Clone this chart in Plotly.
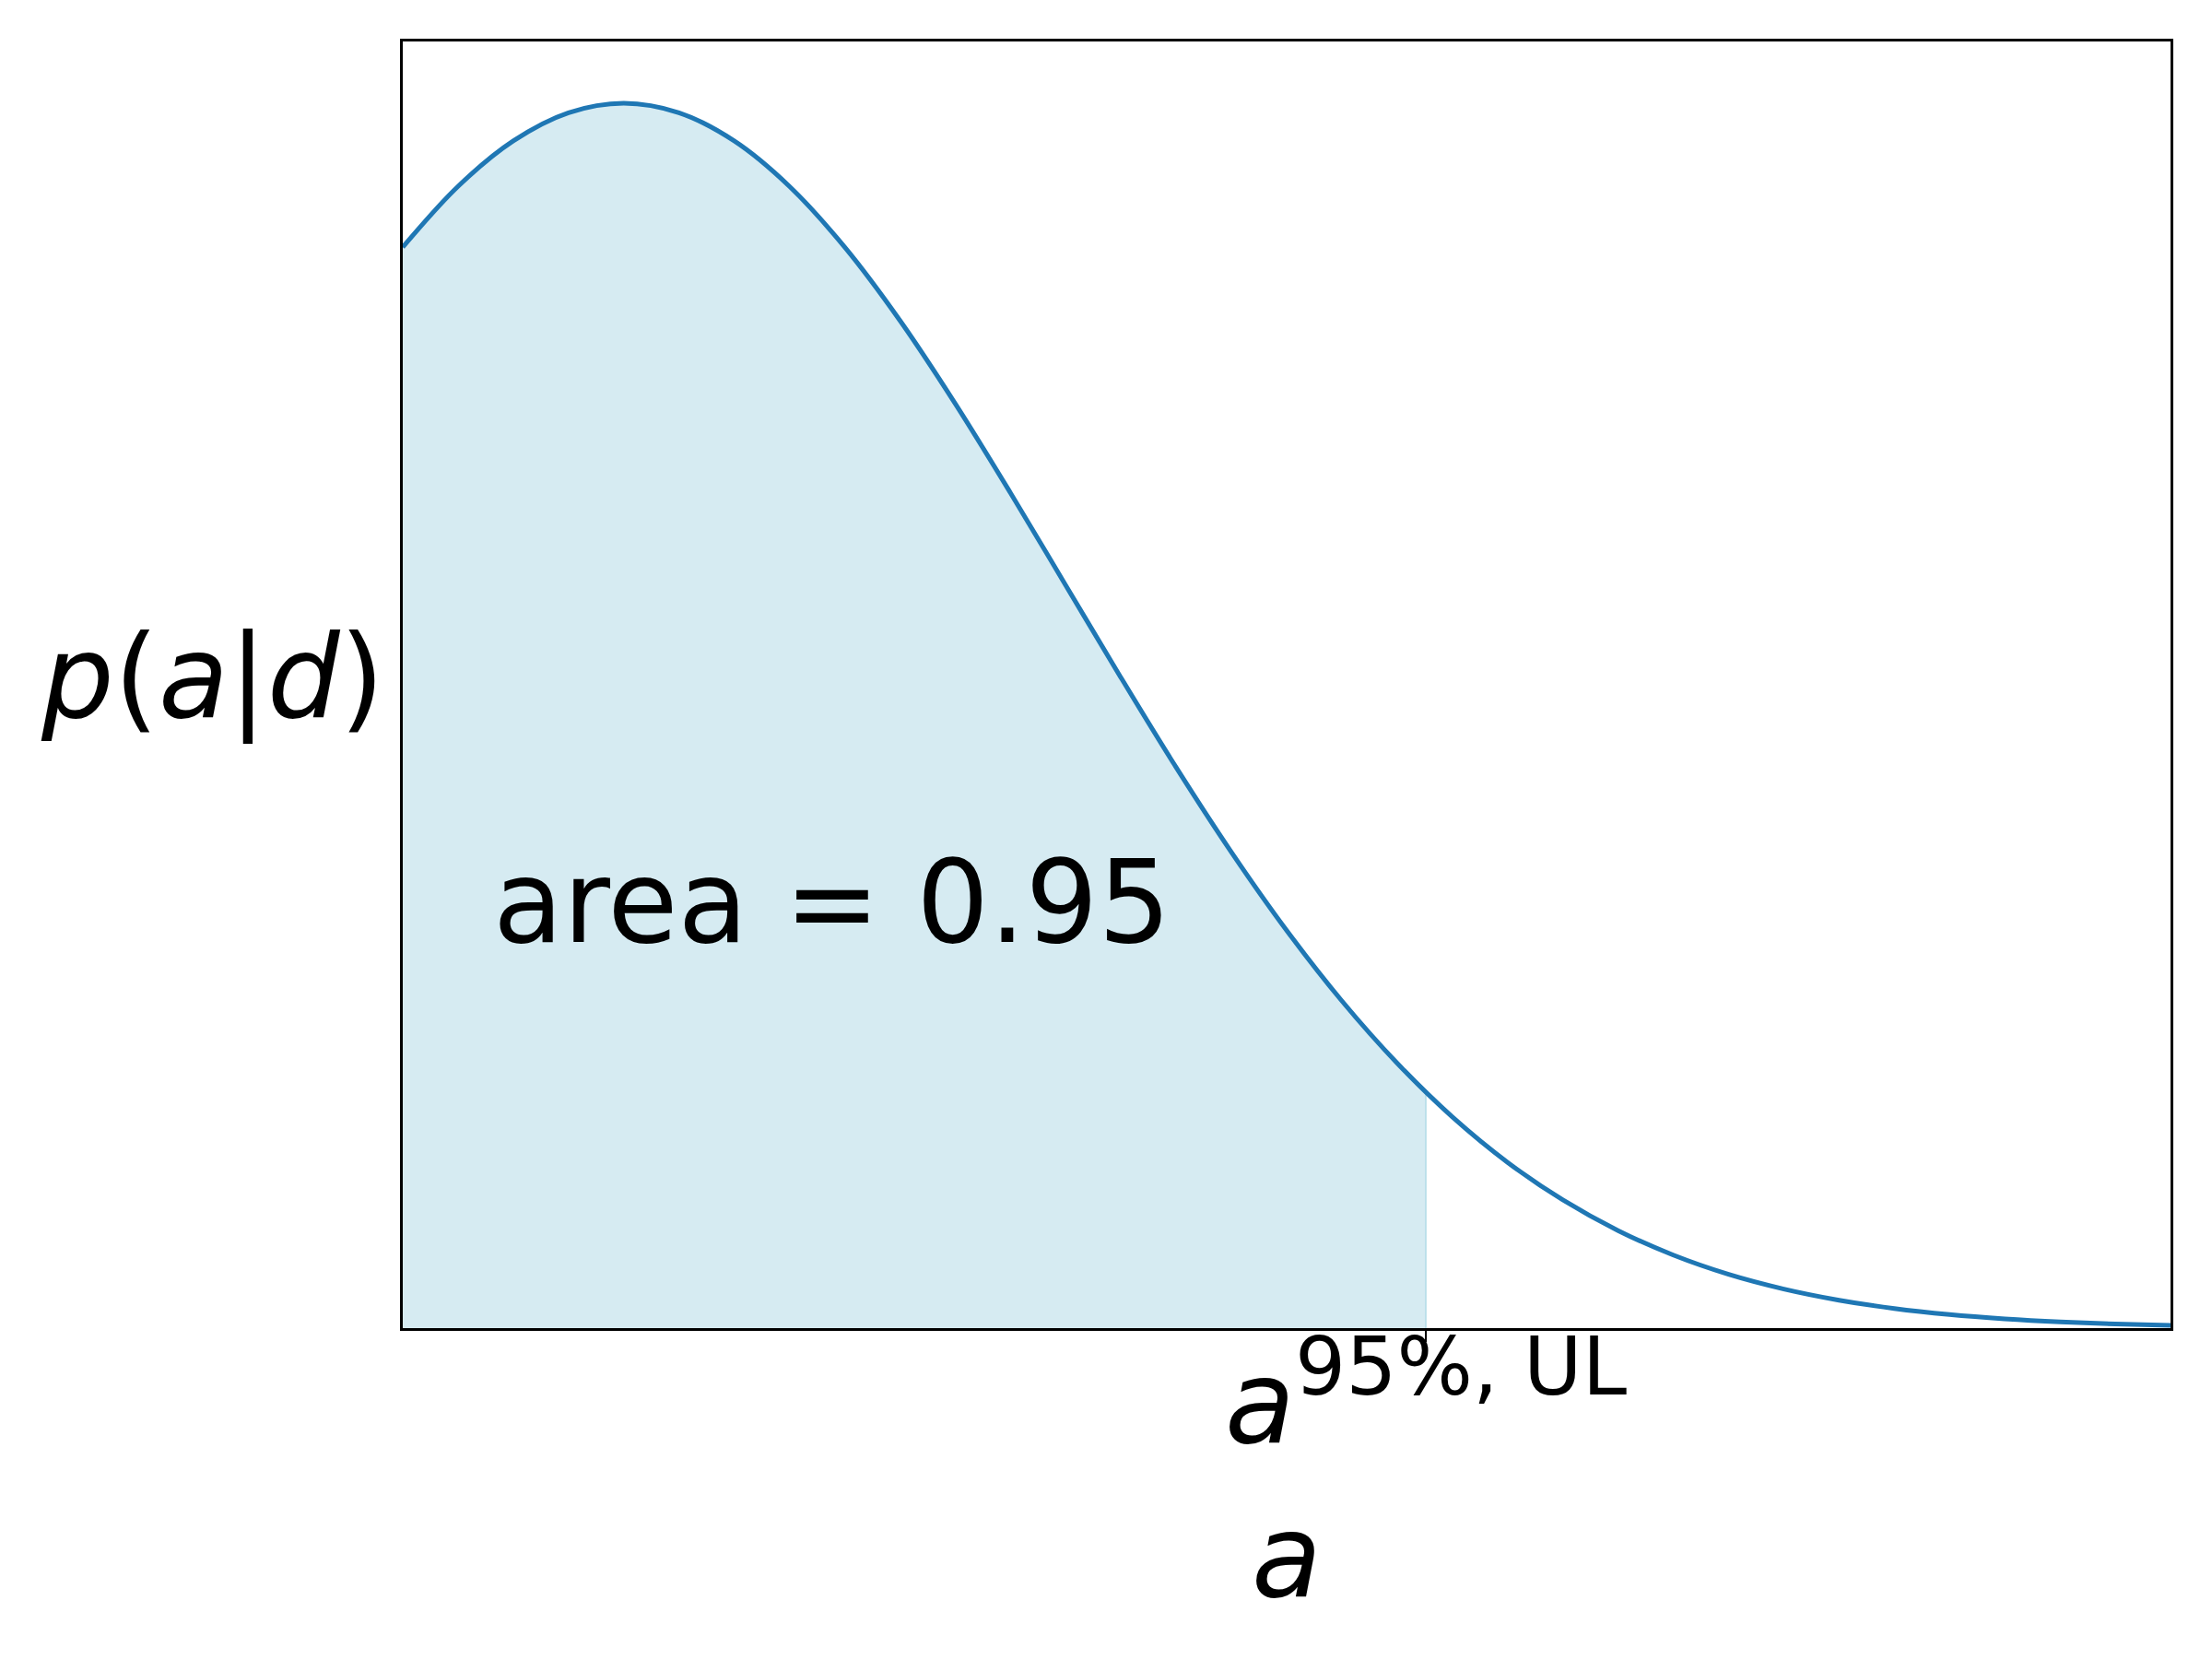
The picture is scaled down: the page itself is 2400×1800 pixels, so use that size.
import plotly.graph_objects as go

# posterior p(a|d) (arbitrary units, peak = 1)
a_vals = [0.0, 0.25, 0.5, 0.75, 1.0, 1.25, 1.5, 1.75, 2.0, 2.25, 2.5, 2.75,
          3.0, 3.25, 3.5, 3.75, 4.0, 4.25, 4.5, 4.75, 5.0, 5.25, 5.5, 5.75,
          6.0, 6.25, 6.5, 6.75, 7.0, 7.25, 7.5, 7.75, 8.0]
pdf_vals = [0.8825, 0.9321, 0.9692, 0.9922, 1.0, 0.9922, 0.9692, 0.9321,
            0.8825, 0.8226, 0.7548, 0.6819, 0.6065, 0.5311, 0.4578, 0.3886,
            0.3247, 0.2671, 0.2163, 0.1724, 0.1353, 0.1046, 0.0796, 0.0596,
            0.0439, 0.0319, 0.0228, 0.0160, 0.0111, 0.0076, 0.0051, 0.0034,
            0.0022]
ul = 4.63
ul_pdf = 0.1926
area_label = "area = 0.95"

FONT = "DejaVu Sans"
BIG = 124

fill_x = [a for a in a_vals if a < ul] + [ul]
fill_y = [p for a, p in zip(a_vals, pdf_vals) if a < ul] + [ul_pdf]

fig = go.Figure()

fig.add_trace(go.Scatter(
    x=fill_x, y=fill_y, mode="lines", line=dict(width=0, shape="spline"),
    fill="tozeroy", fillcolor="rgba(173,216,230,0.5)",
    showlegend=False, hoverinfo="skip",
))
# faint edge of the filled region at the limit
fig.add_trace(go.Scatter(
    x=[ul, ul], y=[0, ul_pdf], mode="lines",
    line=dict(color="rgba(173,216,230,0.7)", width=2),
    showlegend=False, hoverinfo="skip",
))
fig.add_trace(go.Scatter(
    x=a_vals, y=pdf_vals, mode="lines",
    line=dict(color="#1f77b4", width=5, shape="spline"),
    showlegend=False,
))

fig.add_annotation(
    x=0.42, y=0.348, xref="x", yref="y", xshift=-5,
    text=area_label, showarrow=False,
    font=dict(family=FONT, size=BIG, color="black"),
    xanchor="left", yanchor="middle",
)

# y label, horizontal, left of the frame
fig.add_annotation(
    x=0, y=0.5, xref="paper", yref="paper", xshift=-18, yshift=8,
    text="<i>p</i>(<i>a</i>|<i>d</i>)", showarrow=False,
    font=dict(family=FONT, size=BIG, color="black"),
    xanchor="right", yanchor="middle",
)

# tick label at the upper limit
fig.add_annotation(
    x=ul, y=0, xref="x", yref="paper", yshift=11,
    text="<i>a</i><sup>95%, UL</sup>", showarrow=False,
    font=dict(family=FONT, size=BIG, color="black"),
    xanchor="center", yanchor="top",
)

# x label
fig.add_annotation(
    x=0.5, y=0, xref="paper", yref="paper", yshift=-174,
    text="<i>a</i>", showarrow=False,
    font=dict(family=FONT, size=BIG, color="black"),
    xanchor="center", yanchor="top",
)

fig.update_xaxes(
    range=[0, 8], showgrid=False, zeroline=False,
    showline=True, linecolor="black", linewidth=3, mirror=True,
    tickvals=[ul], ticks="outside", ticklen=12, tickwidth=2, tickcolor="black",
    showticklabels=False,
)
fig.update_yaxes(
    range=[0, 1.0504], showgrid=False, zeroline=False,
    showline=True, linecolor="black", linewidth=3, mirror=True,
    ticks="", showticklabels=False,
)

fig.update_layout(
    width=2400, height=1800,
    margin=dict(l=429, r=53, t=37, b=367),
    plot_bgcolor="white", paper_bgcolor="white",
    font=dict(family=FONT, color="black"),
)

fig.write_html("out.html")
